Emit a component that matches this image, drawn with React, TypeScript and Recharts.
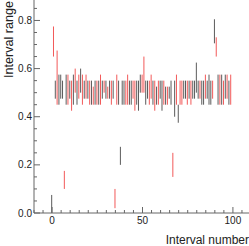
import React from 'react';
import { ComposedChart, Bar, XAxis, YAxis } from 'recharts';

// interval number 0..99
const intervalIds = Array.from({ length: 100 }, (_, i) => i);

const lows = [
  0.0, 0.65, 0.475, 0.45, 0.45, 0.475, 0.475, 0.1, 0.45, 0.45,
  0.475, 0.425, 0.45, 0.5, 0.45, 0.475, 0.5, 0.45, 0.475, 0.475,
  0.475, 0.45, 0.45, 0.45, 0.45, 0.45, 0.45, 0.45, 0.475, 0.5,
  0.475, 0.475, 0.475, 0.45, 0.475, 0.02, 0.45, 0.45, 0.2, 0.45,
  0.45, 0.45, 0.45, 0.45, 0.45, 0.475, 0.425, 0.45, 0.425, 0.5,
  0.5, 0.5, 0.45, 0.475, 0.45, 0.475, 0.45, 0.425, 0.45, 0.45,
  0.475, 0.425, 0.45, 0.45, 0.45, 0.475, 0.45, 0.15, 0.4, 0.45,
  0.375, 0.45, 0.45, 0.475, 0.475, 0.45, 0.475, 0.45, 0.475, 0.475,
  0.5, 0.475, 0.475, 0.45, 0.45, 0.475, 0.475, 0.45, 0.45, 0.475,
  0.705, 0.65, 0.45, 0.45, 0.45, 0.45, 0.475, 0.475, 0.45, 0.45,
];

const highs = [
  0.075, 0.775, 0.55, 0.675, 0.575, 0.575, 0.55, 0.175, 0.575, 0.575,
  0.55, 0.55, 0.575, 0.6, 0.55, 0.575, 0.6, 0.575, 0.55, 0.575,
  0.55, 0.55, 0.55, 0.525, 0.55, 0.55, 0.55, 0.575, 0.55, 0.55,
  0.55, 0.525, 0.55, 0.55, 0.55, 0.1, 0.575, 0.55, 0.275, 0.55,
  0.55, 0.55, 0.575, 0.55, 0.55, 0.55, 0.55, 0.55, 0.55, 0.575,
  0.575, 0.65, 0.55, 0.55, 0.55, 0.575, 0.55, 0.55, 0.525, 0.55,
  0.55, 0.55, 0.55, 0.525, 0.525, 0.525, 0.55, 0.25, 0.55, 0.575,
  0.45, 0.55, 0.55, 0.55, 0.55, 0.55, 0.55, 0.55, 0.55, 0.55,
  0.625, 0.55, 0.55, 0.55, 0.55, 0.575, 0.55, 0.575, 0.55, 0.55,
  0.805, 0.73, 0.575, 0.575, 0.575, 0.55, 0.575, 0.575, 0.55, 0.575,
];

// g = grey interval, r = red interval
const groups = (
  'grgrgggrgr' + 'grgrgrgrgr' + 'grgrgrgrgr' + 'grgrgrrggg' + 'grrggrrggg' +
  'rrggrrgrgr' + 'ggrgrggrgr' + 'grrggrgrgg' + 'ggrggrgggr' + 'grgrgrgrgr'
).split('');

const xTicks = [-10, -5, 0, 5, 10, 15, 20, 25, 30, 35, 40, 45, 50, 55, 60, 65, 70, 75, 80, 85, 90, 95, 100, 105, 110];
const yTicks = [0, 0.05, 0.1, 0.15, 0.2, 0.25, 0.3, 0.35, 0.4, 0.45, 0.5, 0.55, 0.6, 0.65, 0.7, 0.75, 0.8, 0.85];

const data = intervalIds.map((id, i) => ({ id, range: [lows[i], highs[i]], group: groups[i] }));

const GREY = '#5c5c5c';
const RED = '#f25a5a';
const AXIS = '#666';
const FONT = '"Liberation Sans", Arial, sans-serif';

const isMajorX = (v: number) => v % 50 === 0;
const isMajorY = (v: number) => Math.round(v * 100) % 20 === 0;

const IntervalShape = (props: any) => {
  const { x, y, width, height, payload } = props;
  const top = Math.min(y, y + height);
  const h = Math.abs(height);
  return <rect x={x} y={top} width={width} height={h} fill={payload.group === 'r' ? RED : GREY} />;
};

const BottomTick = (props: any) => {
  const { x, y, payload } = props;
  const v = payload.value;
  const major = isMajorX(v);
  return (
    <g>
      <line x1={x} x2={x} y1={y} y2={y - (major ? 6 : 3)} stroke={AXIS} />
      {major && (
        <text x={x} y={y + 10.5} textAnchor="middle" fontSize={10} fontFamily={FONT} fill="#222">
          {v}
        </text>
      )}
    </g>
  );
};

const TopTick = (props: any) => {
  const { x, y, payload } = props;
  const major = isMajorX(payload.value);
  return <line x1={x} x2={x} y1={y} y2={y + (major ? 6 : 3)} stroke={AXIS} />;
};

const LeftTick = (props: any) => {
  const { x, y, payload } = props;
  const v = payload.value;
  const major = isMajorY(v);
  return (
    <g>
      <line x1={x} x2={x + (major ? 6 : 3)} y1={y} y2={y} stroke={AXIS} />
      {major && (
        <text x={x - 2} y={y + 3.5} textAnchor="end" fontSize={10} fontFamily={FONT} fill="#222">
          {v.toFixed(1)}
        </text>
      )}
    </g>
  );
};

const RightTick = (props: any) => {
  const { x, y, payload } = props;
  const major = isMajorY(payload.value);
  return <line x1={x} x2={x - (major ? 8 : 5)} y1={y} y2={y} stroke={AXIS} />;
};

const yLabel = (props: any) => {
  const vb = props.viewBox;
  const x = vb.x + 12.5;
  const y = vb.y + 78;
  return (
    <text x={x} y={y} transform={`rotate(-90 ${x} ${y})`} fontSize={12.6} fontFamily={FONT} fill="#222">
      Interval range
    </text>
  );
};

const xLabel = (props: any) => {
  const vb = props.viewBox;
  return (
    <text x={vb.x + vb.width - 2} y={vb.y + 30.5} textAnchor="end" fontSize={12} fontFamily={FONT} fill="#222">
      Interval number
    </text>
  );
};

const App: React.FC = () => {
  return (
    <div style={{ position: 'absolute', left: 0, top: 0, width: 249, height: 246, overflow: 'hidden', background: '#fff' }}>
      <ComposedChart width={252} height={246} data={data} margin={{ top: 0, right: 1, left: 0, bottom: 0 }}>
        <XAxis
          dataKey="id"
          type="number"
          domain={[-10, 110]}
          ticks={xTicks}
          interval={0}
          height={33}
          tickSize={0}
          tickMargin={0}
          tickLine={false}
          tick={BottomTick}
          axisLine={{ stroke: AXIS }}
          allowDataOverflow
          label={{ value: 'Interval number', content: xLabel }}
        />
        <XAxis
          xAxisId="top"
          orientation="top"
          type="number"
          domain={[-10, 110]}
          ticks={xTicks}
          interval={0}
          height={0}
          tickSize={0}
          tickMargin={0}
          tickLine={false}
          tick={TopTick}
          axisLine={{ stroke: AXIS }}
          allowDataOverflow
        />
        <YAxis
          type="number"
          domain={[0, 0.885]}
          ticks={yTicks}
          interval={0}
          width={34}
          tickSize={0}
          tickMargin={0}
          tickLine={false}
          tick={LeftTick}
          axisLine={{ stroke: AXIS }}
          allowDataOverflow
          label={{ value: 'Interval range', content: yLabel }}
        />
        <YAxis
          yAxisId="right"
          orientation="right"
          type="number"
          domain={[0, 0.885]}
          ticks={yTicks}
          interval={0}
          width={0}
          tickSize={0}
          tickMargin={0}
          tickLine={false}
          tick={RightTick}
          axisLine={{ stroke: AXIS }}
          allowDataOverflow
        />
        <Bar dataKey="range" barSize={1} shape={IntervalShape} isAnimationActive={false} />
      </ComposedChart>
    </div>
  );
};

export default App;
